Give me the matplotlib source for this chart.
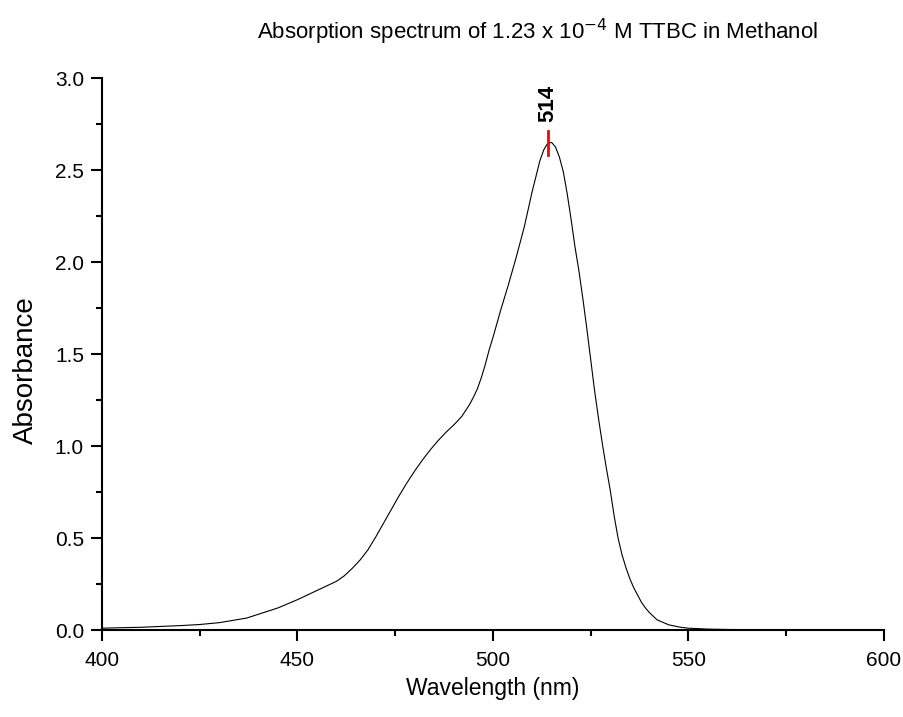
import matplotlib
matplotlib.use('Agg')
import matplotlib.pyplot as plt
from matplotlib.ticker import MultipleLocator, FormatStrFormatter

# Spectrum values
wavelength = [400, 410, 420, 425, 430, 437, 445, 450, 455, 460, 462, 464, 466, 468, 470,
              472, 474, 476, 478, 480, 482, 484, 486, 488, 490, 492, 494, 495, 496, 497,
              498, 499, 500, 502, 504, 506, 508, 510, 512, 513, 514, 515, 516, 517, 518, 519,
              520, 521, 522, 523, 524, 525, 526, 527, 528, 529, 530, 531, 532, 533,
              534, 535, 536, 537, 538, 539, 540, 542, 545, 548, 550, 555, 560, 570, 600]
absorbance = [0.010, 0.015, 0.024, 0.030, 0.040, 0.065, 0.12, 0.165, 0.215, 0.265, 0.295, 0.335, 0.38, 0.435, 0.505,
              0.58, 0.655, 0.73, 0.80, 0.865, 0.925, 0.98, 1.03, 1.075, 1.115, 1.16, 1.225, 1.265, 1.31, 1.37,
              1.44, 1.52, 1.59, 1.74, 1.88, 2.03, 2.19, 2.38, 2.55, 2.61, 2.645, 2.65, 2.625, 2.57, 2.49, 2.37,
              2.23, 2.08, 1.95, 1.80, 1.64, 1.47, 1.30, 1.15, 1.01, 0.88, 0.76, 0.62, 0.50, 0.41,
              0.34, 0.28, 0.23, 0.19, 0.15, 0.12, 0.095, 0.055, 0.028, 0.015, 0.010, 0.005, 0.003, 0.001, 0.0]

peak_wl = 514
peak_marker = [2.58, 2.71]
peak_label = '514'

plt.rcParams['font.family'] = ['Liberation Sans', 'DejaVu Sans']

fig = plt.figure(figsize=(9.04, 7.17), dpi=100)
ax = fig.add_axes([0.1128, 0.1213, 0.8650, 0.7699])

ax.plot(wavelength, absorbance, color='black', linewidth=0.8)
ax.plot([peak_wl, peak_wl], peak_marker, color='red', linewidth=2)
ax.text(peak_wl, 2.76, peak_label, rotation=90, ha='center', va='bottom',
        fontsize=16, fontweight='bold')

ax.set_xlim(400, 600)
ax.set_ylim(0, 3.0)
ax.xaxis.set_major_locator(MultipleLocator(50))
ax.xaxis.set_minor_locator(MultipleLocator(25))
ax.yaxis.set_major_locator(MultipleLocator(0.5))
ax.yaxis.set_minor_locator(MultipleLocator(0.25))
ax.yaxis.set_major_formatter(FormatStrFormatter('%.1f'))

ax.spines['top'].set_visible(False)
ax.spines['right'].set_visible(False)
ax.spines['left'].set_linewidth(1.5)
ax.spines['bottom'].set_linewidth(1.5)
ax.tick_params(which='major', direction='out', length=8, width=1.5, labelsize=15)
ax.tick_params(which='minor', direction='out', length=4, width=1.5)
ax.tick_params(axis='x', pad=7)
ax.tick_params(axis='y', pad=5)

ax.set_xlabel('Wavelength (nm)', fontsize=16.5, labelpad=5)
ax.set_ylabel('Absorbance', fontsize=20)
ax.yaxis.set_label_coords(-0.081, 0.47)
fig.text(0.595, 0.955, 'Absorption spectrum of 1.23 x 10$^{-4}$ M TTBC in Methanol',
         ha='center', va='center', fontsize=16)

fig.savefig('out.png', dpi=100)
